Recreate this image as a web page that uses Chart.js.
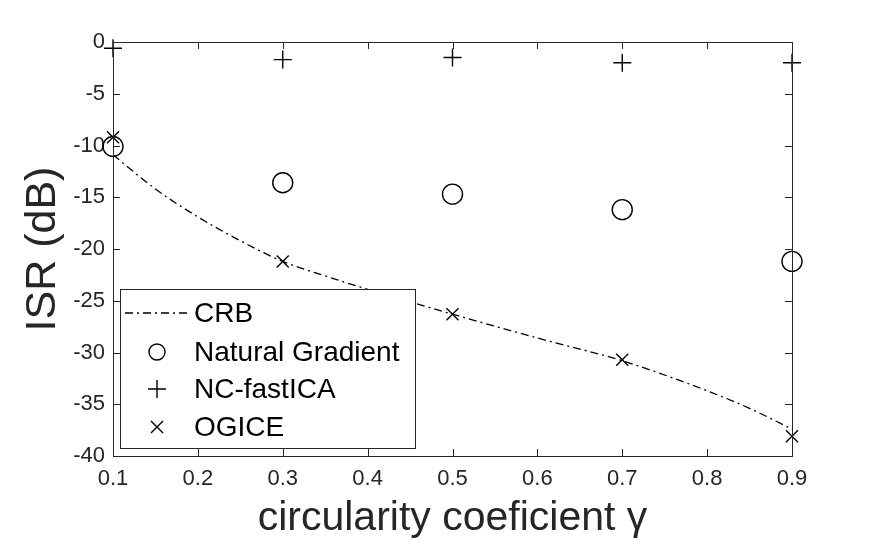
<!DOCTYPE html>
<html>
<head>
<meta charset="utf-8">
<script src="https://cdn.jsdelivr.net/npm/chart.js@4/dist/chart.umd.min.js"></script>
<style>
    html, body { margin: 0; padding: 0; background: #ffffff; }
    #wrap { width: 875px; height: 546px; }
</style>
</head>
<body>
<div id="wrap"><canvas id="isrChart" width="875" height="546"></canvas></div>
<script>
// Valores
const gammaVals = [0.1, 0.3, 0.5, 0.7, 0.9];
const naturalGradient = [-10.1, -13.6, -14.7, -16.2, -21.2];
const ncFastICA = [-0.6, -1.7, -1.5, -2.0, -2.0];
const ogice = [-9.2, -21.2, -26.3, -30.7, -38.1];

// Curva CRB (tracejado ponto)
const crbGamma = [0.1, 0.15, 0.2, 0.25, 0.3, 0.35, 0.4, 0.5, 0.6, 0.7, 0.8, 0.85, 0.9];
const crbIsr = [-10.9, -14.2, -16.9, -19.2, -21.2, -22.6, -23.9, -26.3, -28.6, -30.8, -33.7, -35.4, -37.4];

const xTicks = [0.1, 0.2, 0.3, 0.4, 0.5, 0.6, 0.7, 0.8, 0.9];
const yTicks = [0, -5, -10, -15, -20, -25, -30, -35, -40];

const FONT = "'Liberation Sans', Arial, Helvetica, sans-serif";
const AXIS_COLOR = '#262626';

function toPoints(xs, ys) {
    return xs.map((x, i) => ({ x: x, y: ys[i] }));
}

// Moldura e marcas internas (estilo MATLAB)
const boxPlugin = {
    id: 'boxPlugin',
    afterDraw(chart) {
        const ctx = chart.ctx;
        const a = chart.chartArea;
        const xs = chart.scales.x;
        const ys = chart.scales.y;
        const tl = 7;
        ctx.save();
        ctx.strokeStyle = AXIS_COLOR;
        ctx.lineWidth = 1;
        ctx.beginPath();
        xTicks.forEach(v => {
            const px = Math.round(xs.getPixelForValue(v)) + 0.5;
            ctx.moveTo(px, a.bottom); ctx.lineTo(px, a.bottom - tl);
            ctx.moveTo(px, a.top); ctx.lineTo(px, a.top + tl);
        });
        yTicks.forEach(v => {
            const py = Math.round(ys.getPixelForValue(v)) + 0.5;
            ctx.moveTo(a.left, py); ctx.lineTo(a.left + tl, py);
            ctx.moveTo(a.right, py); ctx.lineTo(a.right - tl, py);
        });
        ctx.stroke();
        ctx.strokeRect(Math.round(a.left) + 0.5, Math.round(a.top) + 0.5,
            Math.round(a.right - a.left), Math.round(a.bottom - a.top));
        ctx.restore();
    }
};

// Legenda dentro da área do gráfico, canto inferior esquerdo
const legendBoxPlugin = {
    id: 'legendBox',
    afterDatasetsDraw(chart) {
        const ctx = chart.ctx;
        const a = chart.chartArea;
        const left = a.left + 7;
        const bottom = a.bottom - 8;
        const w = 295, h = 159;
        const top = bottom - h;
        ctx.save();
        ctx.fillStyle = '#ffffff';
        ctx.fillRect(left, top, w, h);
        ctx.strokeStyle = AXIS_COLOR;
        ctx.lineWidth = 1;
        ctx.strokeRect(left + 0.5, top + 0.5, w, h);

        const rowY = [top + 24, top + 63, top + 100, top + 138];
        const markX = left + 37;
        const textX = left + 74;
        chart.data.datasets.forEach((ds, i) => {
            const y = rowY[i];
            ctx.strokeStyle = '#000000';
            ctx.lineWidth = 1.3;
            if (ds.showLine) {
                ctx.setLineDash(ds.borderDash);
                ctx.beginPath();
                ctx.moveTo(left + 5, y);
                ctx.lineTo(left + 68, y);
                ctx.stroke();
                ctx.setLineDash([]);
            } else {
                ctx.lineWidth = ds.borderWidth;
                ctx.fillStyle = 'rgba(0,0,0,0)';
                Chart.helpers.drawPoint(ctx, {
                    pointStyle: ds.pointStyle,
                    radius: ds.legendRadius,
                    borderWidth: ds.borderWidth,
                    rotation: 0
                }, markX, y);
            }
            ctx.fillStyle = '#000000';
            ctx.font = '28px ' + FONT;
            ctx.textBaseline = 'middle';
            ctx.textAlign = 'left';
            ctx.fillText(ds.label, textX, y + 1);
        });
        ctx.restore();
    }
};

const ctx = document.getElementById('isrChart').getContext('2d');

new Chart(ctx, {
    type: 'scatter',
    data: {
        datasets: [{
            label: 'CRB',
            data: toPoints(crbGamma, crbIsr),
            showLine: true,
            borderColor: '#000000',
            borderWidth: 1.3,
            borderDash: [8, 4, 2, 4],
            pointRadius: 0,
            cubicInterpolationMode: 'monotone',
            clip: false
        }, {
            label: 'Natural Gradient',
            data: toPoints(gammaVals, naturalGradient),
            pointStyle: 'circle',
            pointRadius: 10,
            legendRadius: 8,
            borderWidth: 1.4,
            borderColor: '#000000',
            backgroundColor: 'rgba(0,0,0,0)',
            clip: false
        }, {
            label: 'NC-fastICA',
            data: toPoints(gammaVals, ncFastICA),
            pointStyle: 'cross',
            pointRadius: 9,
            legendRadius: 9,
            borderWidth: 1.4,
            borderColor: '#000000',
            clip: false
        }, {
            label: 'OGICE',
            data: toPoints(gammaVals, ogice),
            pointStyle: 'crossRot',
            pointRadius: 8.5,
            legendRadius: 8.5,
            borderWidth: 1.4,
            borderColor: '#000000',
            clip: false
        }]
    },
    options: {
        responsive: false,
        animation: false,
        devicePixelRatio: 1,
        layout: {
            padding: { top: 42, right: 83, left: 0, bottom: 0 }
        },
        plugins: {
            legend: { display: false },
            tooltip: { enabled: false }
        },
        scales: {
            x: {
                type: 'linear',
                min: 0.1,
                max: 0.9,
                afterBuildTicks: (scale) => { scale.ticks = xTicks.map(v => ({ value: v })); },
                afterFit: (scale) => { scale.height = 90; },
                grid: { display: false, drawTicks: false },
                border: { display: false },
                ticks: {
                    color: AXIS_COLOR,
                    padding: 10,
                    maxRotation: 0,
                    font: { family: FONT, size: 22 },
                    callback: (v) => v.toFixed(1)
                },
                title: {
                    display: true,
                    text: 'circularity coeficient γ',
                    color: AXIS_COLOR,
                    font: { family: FONT, size: 41 },
                    padding: { top: 0, bottom: 3 }
                }
            },
            y: {
                type: 'linear',
                min: -40,
                max: 0,
                afterBuildTicks: (scale) => { scale.ticks = yTicks.map(v => ({ value: v })); },
                afterFit: (scale) => { scale.width = 113; },
                grid: { display: false, drawTicks: false },
                border: { display: false },
                ticks: {
                    color: AXIS_COLOR,
                    padding: 8,
                    font: { family: FONT, size: 22 },
                    callback: (v) => String(v)
                },
                title: {
                    display: true,
                    text: 'ISR (dB)',
                    color: AXIS_COLOR,
                    font: { family: FONT, size: 43 },
                    padding: { top: 17, bottom: 0 }
                }
            }
        }
    },
    plugins: [boxPlugin, legendBoxPlugin]
});
</script>
</body>
</html>
